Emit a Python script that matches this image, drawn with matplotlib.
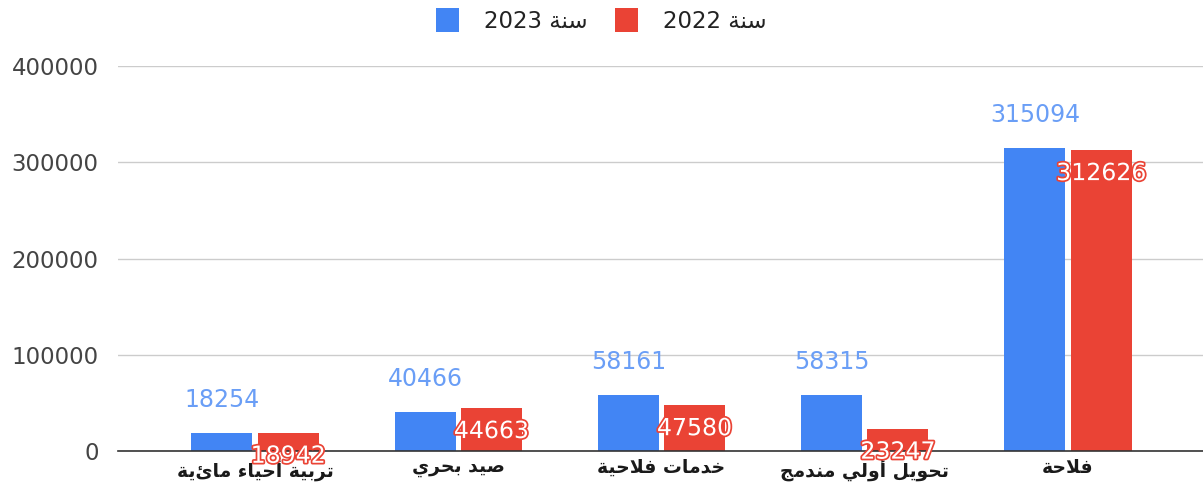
import matplotlib
matplotlib.use("Agg")
import matplotlib.pyplot as plt
import matplotlib.patheffects as pe
import numpy as np

categories = ["تربية أحياء مائية", "صيد بحري", "خدمات فلاحية", "تحويل أولي مندمج", "فلاحة"]
values_2023 = [18254, 40466, 58161, 58315, 315094]
values_2022 = [18942, 44663, 47580, 23247, 312626]
series_names = ["سنة 2023", "سنة 2022"]
yticks = [0, 100000, 200000, 300000, 400000]

BLUE = "#4285F4"
RED = "#EA4335"

# --- minimal Arabic shaping (presentation forms) + visual reordering ---
FORMS = {
    'ا': ('\uFE8D', '\uFE8E', None, None),
    'أ': ('\uFE83', '\uFE84', None, None),
    'ء': ('\uFE80', None, None, None),
    'ب': ('\uFE8F', '\uFE90', '\uFE91', '\uFE92'),
    'ة': ('\uFE93', '\uFE94', None, None),
    'ت': ('\uFE95', '\uFE96', '\uFE97', '\uFE98'),
    'ج': ('\uFE9D', '\uFE9E', '\uFE9F', '\uFEA0'),
    'ح': ('\uFEA1', '\uFEA2', '\uFEA3', '\uFEA4'),
    'خ': ('\uFEA5', '\uFEA6', '\uFEA7', '\uFEA8'),
    'د': ('\uFEA9', '\uFEAA', None, None),
    'ر': ('\uFEAD', '\uFEAE', None, None),
    'س': ('\uFEB1', '\uFEB2', '\uFEB3', '\uFEB4'),
    'ص': ('\uFEB9', '\uFEBA', '\uFEBB', '\uFEBC'),
    'ف': ('\uFED1', '\uFED2', '\uFED3', '\uFED4'),
    'ل': ('\uFEDD', '\uFEDE', '\uFEDF', '\uFEE0'),
    'م': ('\uFEE1', '\uFEE2', '\uFEE3', '\uFEE4'),
    'ن': ('\uFEE5', '\uFEE6', '\uFEE7', '\uFEE8'),
    'و': ('\uFEED', '\uFEEE', None, None),
    'ي': ('\uFEF1', '\uFEF2', '\uFEF3', '\uFEF4'),
}
LAM_ALEF = {'ا': ('\uFEFB', '\uFEFC'), 'أ': ('\uFEF7', '\uFEF8')}


def joins_next(c):
    return c in FORMS and FORMS[c][2] is not None


def shape_word(word):
    chars = []
    i = 0
    while i < len(word):
        c = word[i]
        if c == 'ل' and i + 1 < len(word) and word[i + 1] in LAM_ALEF:
            chars.append(('LA', word[i + 1]))
            i += 2
        else:
            chars.append(('C', c))
            i += 1
    out = []
    for k, (kind, c) in enumerate(chars):
        prev = chars[k - 1] if k > 0 else None
        nxt = chars[k + 1] if k + 1 < len(chars) else None
        prev_joins = prev is not None and prev[0] == 'C' and joins_next(prev[1])
        if kind == 'LA':
            out.append(LAM_ALEF[c][1] if prev_joins else LAM_ALEF[c][0])
            continue
        if c not in FORMS:
            out.append(c)
            continue
        iso, fin, ini, med = FORMS[c]
        next_exists = nxt is not None and (nxt[0] == 'LA' or nxt[1] in FORMS)
        can_next = ini is not None and next_exists
        if prev_joins and can_next:
            out.append(med)
        elif prev_joins:
            out.append(fin if fin else iso)
        elif can_next:
            out.append(ini)
        else:
            out.append(iso)
    return ''.join(out)


def ar(text):
    tokens = text.split(' ')
    shaped = []
    for t in tokens:
        if t and t[0] in FORMS:
            shaped.append(shape_word(t)[::-1])
        else:
            shaped.append(t)
    return ' '.join(shaped[::-1])


plt.rcParams['font.family'] = ['DejaVu Sans']

fig = plt.figure(figsize=(12.03, 4.87), dpi=100)
ax = fig.add_axes([118 / 1203, 36 / 487, 1 - 118 / 1203, (451 - 66) / 487])

x = np.arange(len(categories))
w = 0.30
off = 0.163
b23 = ax.bar(x - off, values_2023, w, color=BLUE, zorder=3)
b22 = ax.bar(x + off, values_2022, w, color=RED, zorder=3)

for xi, v in zip(x, values_2023):
    ax.annotate(str(v), (xi - off, v), xytext=(0, 33), textcoords='offset pixels',
                ha='center', va='center', fontsize=17, color='#6A9EF6', zorder=5)
for xi, v in zip(x, values_2022):
    ax.annotate(str(v), (xi + off, v), xytext=(0, -23), textcoords='offset pixels',
                ha='center', va='center', fontsize=17, color='white', zorder=5,
                path_effects=[pe.withStroke(linewidth=2.5, foreground=RED)])

ax.set_xlim(-0.674, 4.664)
ax.set_ylim(0, 400000)
ax.set_yticks(yticks)
ax.set_yticklabels([str(t) for t in yticks], fontsize=16.5, color='#444444')
ax.set_xticks(x)
ax.set_xticklabels([ar(c) for c in categories], fontsize=13.5, fontweight='bold', color='#1a1a1a')
ax.tick_params(axis='y', length=0, pad=14)
ax.tick_params(axis='x', length=0, pad=5)
ax.grid(axis='y', color='#cccccc', linewidth=1, zorder=0)
for s in ['left', 'right', 'top']:
    ax.spines[s].set_visible(False)
ax.spines['bottom'].set_color('#333333')
ax.spines['bottom'].set_linewidth(1.2)
ax.spines['bottom'].set_zorder(4)

leg = fig.legend(handles=[b23, b22], labels=[ar(s) for s in series_names],
                 loc='upper center', bbox_to_anchor=(0.5, 1.025), ncol=2, frameon=False,
                 fontsize=16.5, handlelength=1.0, handleheight=1.2, columnspacing=1.2,
                 handletextpad=1.1)
for t in leg.get_texts():
    t.set_color('#222222')

fig.savefig('out.png', dpi=100)
